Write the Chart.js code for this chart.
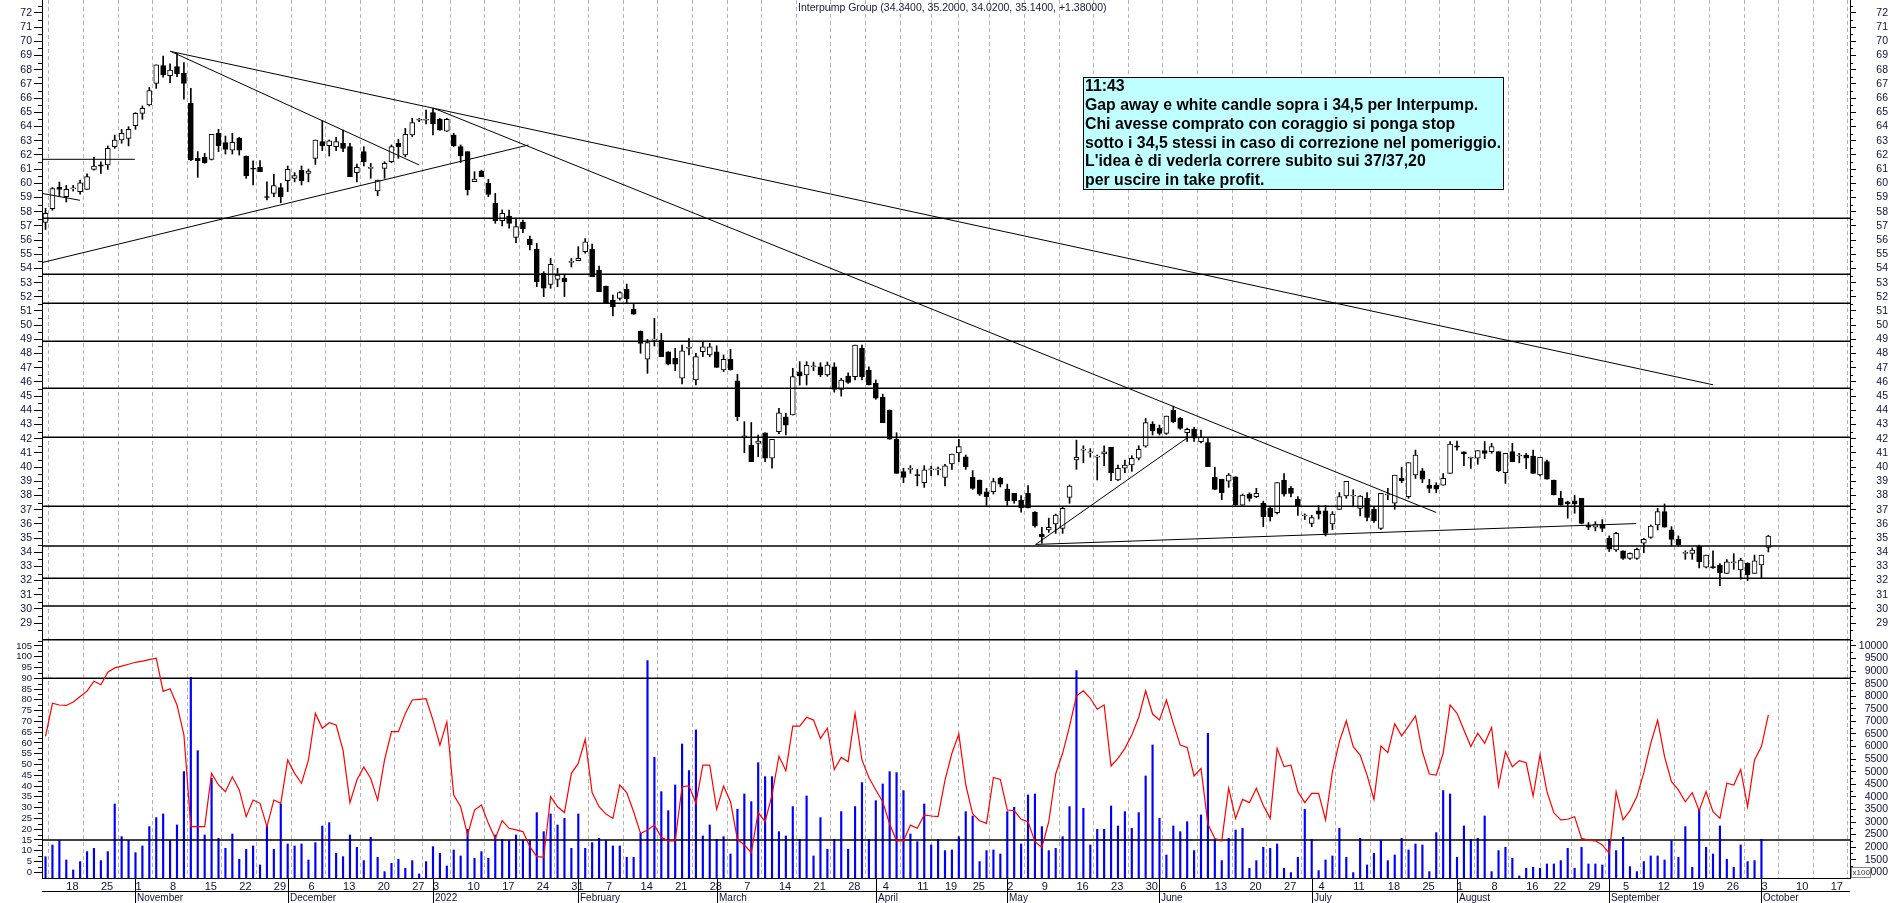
<!DOCTYPE html>
<html>
<head>
<meta charset="utf-8">
<script src="https://cdn.jsdelivr.net/npm/chart.js@4.4.1/dist/chart.umd.min.js"></script>
<style>
  html, body { margin: 0; padding: 0; background: #fff; }
  #wrap { position: relative; width: 1890px; height: 903px; overflow: hidden; background: #fff; }
  #price { position: absolute; left: 0; top: 0; }
  #ind { position: absolute; left: 0; top: 639px; }
</style>
</head>
<body>
<div id="wrap">
  <canvas id="price" width="1890" height="639"></canvas>
  <canvas id="ind" width="1890" height="264"></canvas>
</div>
<script>
// Daily candles, one per trading day (index 0 = 13 Oct 2021 ... 249 = 4 Oct 2022)
const open = [57.25,58.21,59.72,59.06,59.6,59.41,59.57,60.98,61.3,61.29,
62.58,63.05,63.17,64.06,64.93,65.52,67.04,68.29,67.58,68.22,
67.75,65.63,61.76,61.83,61.69,63.52,62.86,62.34,63.17,61.92,
61.05,61.12,59.06,59.29,59.69,60.18,60.35,60.93,60.7,61.76,
62.93,62.65,62.58,62.82,62.58,60.75,62.23,61.05,59.46,61.05,
61.52,62.82,61.99,63.4,64.44,64.44,64.98,64.51,63.68,63.4,
62.58,62.23,60.12,60.86,59.99,58.59,57.37,57.69,56.19,57.25,
56.05,55.35,53.66,52.88,53.23,53.3,54.43,54.55,55.18,55.35,
53.89,52.76,51.77,51.89,52.53,51.12,49.59,47.6,48.95,48.95,
48.13,47.67,46.26,48.37,46.14,48.13,47.9,48.13,46.84,47.6,
46.07,42.14,41.55,41.67,42.42,40.62,42.49,43.55,43.67,46.72,
46.49,47.07,47.07,46.49,47.07,45.48,46.42,46.37,48.37,46.84,
45.9,44.92,44.02,41.96,39.68,39.84,39.45,38.9,39.8,39.8,
39.28,40.22,41.0,40.73,39.28,39.09,38.26,38.26,39.21,38.43,
38.15,37.68,38.15,36.81,35.28,35.57,35.99,35.68,37.87,40.5,
41.2,41.0,40.7,40.92,41.4,39.09,39.92,40.15,40.62,41.48,
43.03,42.73,42.38,44.02,43.44,42.42,42.66,41.79,41.72,39.28,
39.14,39.0,39.32,37.32,38.1,37.92,37.45,37.09,36.79,39.09,
38.5,37.73,36.55,36.03,36.92,36.92,35.99,37.02,37.96,37.96,
37.09,37.8,37.03,35.68,38.03,37.45,39.21,37.92,39.44,39.74,
38.73,38.73,38.73,39.56,41.5,41.08,40.62,40.62,41.16,41.09,
41.09,39.6,41.09,40.78,40.85,40.78,39.44,40.38,39.09,37.8,
37.56,37.63,37.8,35.92,35.76,35.99,34.98,34.16,34.1,33.57,
33.57,34.63,35.05,35.92,36.86,35.57,34.91,33.92,33.92,34.44,
32.95,32.98,33.1,32.51,33.26,32.75,33.22,32.51,33.1,34.34];

const high = [58.23,59.7,60.09,59.85,59.85,60.22,60.67,61.83,61.52,62.63,
63.4,63.8,63.99,64.98,65.45,66.76,68.34,68.97,68.41,69.16,
68.5,66.69,62.23,62.11,63.45,63.8,63.33,63.52,63.24,61.92,
61.59,61.6,60.1,60.63,59.99,61.22,60.75,61.22,61.0,63.05,
64.41,63.05,63.24,63.75,62.82,61.36,62.58,61.4,60.23,61.52,
62.7,63.1,63.87,64.58,64.58,65.16,65.28,64.58,64.58,63.52,
62.7,62.23,60.82,60.93,60.28,59.29,58.12,58.12,57.46,57.41,
56.28,55.77,53.77,54.71,54.01,53.54,54.7,55.53,56.1,55.72,
54.17,52.76,52.13,52.36,52.9,51.49,49.59,49.0,50.49,49.43,
48.13,48.37,48.6,49.07,48.02,48.83,48.72,48.55,47.9,48.3,
46.54,43.2,43.14,42.26,42.42,41.96,44.14,43.78,46.96,47.43,
47.43,47.4,47.35,47.4,47.35,46.26,46.65,48.6,48.6,47.07,
46.14,45.14,44.02,42.42,39.92,40.1,39.84,40.1,40.06,40.0,
40.2,40.92,41.96,40.85,39.75,39.09,38.5,39.2,39.28,38.8,
38.15,38.0,38.7,36.86,35.76,36.4,36.69,37.2,38.74,41.9,
41.5,41.3,40.85,41.5,41.4,40.15,40.5,40.8,41.5,43.43,
43.2,42.96,43.6,44.3,43.5,42.75,42.8,42.6,42.0,39.98,
39.14,39.55,39.32,38.1,38.19,38.5,37.6,37.2,38.9,39.55,
38.62,37.92,36.7,36.6,37.3,37.3,36.86,38.2,39.0,38.4,
38.0,38.2,37.2,38.15,38.5,39.43,39.98,40.31,41.2,39.9,
39.14,38.9,39.55,41.8,41.83,41.08,40.7,41.16,41.8,41.67,
41.09,40.97,41.67,40.97,40.97,41.2,40.69,40.5,39.09,38.3,
37.6,38.0,37.8,36.09,36.15,36.3,35.15,35.4,34.1,33.96,
34.3,34.98,35.92,37.09,37.4,35.8,35.15,34.1,34.3,34.5,
33.8,34.1,33.2,33.48,33.9,33.57,33.26,33.8,33.8,35.2];

const low = [56.75,58.1,59.06,58.68,59.45,59.24,59.57,60.93,60.7,60.98,
62.46,62.82,62.63,63.8,64.51,65.45,66.69,67.47,67.09,67.51,
65.92,61.59,60.42,61.41,61.64,62.23,62.06,62.06,61.99,60.35,
59.88,60.82,58.82,59.06,58.63,59.41,60.1,59.88,60.1,61.33,
62.3,61.92,62.3,62.23,60.47,60.1,61.22,60.35,59.13,60.35,
61.45,61.76,61.87,63.28,64.34,64.18,63.4,63.75,63.64,62.58,
61.47,59.17,60.12,60.47,59.06,57.18,56.99,56.83,55.82,56.52,
55.3,52.71,52.01,52.6,52.71,52.01,54.1,54.55,55.07,53.42,
52.36,51.54,50.65,51.77,51.54,50.77,48.02,46.61,48.53,47.78,
47.2,46.79,45.86,47.9,45.79,47.78,47.78,47.03,46.73,46.84,
43.27,41.01,40.38,40.73,40.38,39.92,42.36,42.26,43.67,45.78,
45.78,46.8,46.37,46.4,45.28,45.0,45.9,46.14,46.14,45.79,
44.78,43.13,41.96,39.56,38.9,39.56,38.67,38.57,39.4,39.45,
38.67,39.84,40.38,39.84,38.43,38.0,37.3,38.1,38.6,37.3,
37.45,36.82,37.13,35.76,34.63,35.4,35.33,35.33,37.45,39.84,
40.3,40.7,39.09,40.1,39.05,39.05,39.6,39.7,40.5,41.4,
42.26,42.26,42.3,43.13,42.66,41.8,41.8,41.7,40.03,38.4,
37.7,38.57,37.32,37.3,37.6,37.85,35.8,36.2,36.7,37.95,
37.9,36.6,36.3,35.8,36.34,35.15,35.6,37.02,37.8,37.2,
36.55,36.2,36.1,35.6,37.7,37.03,38.9,37.8,39.2,38.9,
38.2,38.2,38.73,39.56,41.2,40.1,39.9,40.2,40.6,40.97,
39.68,38.85,40.38,40.3,39.9,39.56,39.37,39.14,38.03,37.32,
36.4,36.75,35.99,35.6,35.5,35.45,34.05,34.05,33.5,33.5,
33.5,33.96,34.98,35.57,35.76,34.45,34.45,33.5,33.5,32.9,
32.9,32.86,31.65,32.51,32.8,32.1,32.0,32.51,32.2,34.02];

const close = [57.88,59.62,59.57,59.57,59.68,60.04,60.47,61.22,61.2,62.46,
63.05,63.52,63.8,64.93,65.28,66.53,68.34,67.63,67.98,67.7,
67.04,61.64,61.59,61.45,63.45,62.65,62.39,62.88,62.34,60.54,
61.0,60.82,59.0,59.83,59.06,60.98,60.54,60.16,60.86,63.05,
62.65,63.0,62.93,62.46,60.47,61.12,61.52,61.05,60.23,61.4,
62.58,62.58,63.45,64.27,64.46,64.51,64.18,63.75,64.51,62.65,
61.92,59.53,60.3,60.47,59.22,57.37,57.88,57.18,56.94,56.8,
55.65,53.06,52.6,54.29,53.53,53.06,54.45,54.71,55.88,53.42,
52.36,51.54,51.3,52.29,51.85,50.77,48.72,48.77,48.98,47.78,
47.26,47.26,48.2,48.4,47.78,48.48,48.48,47.03,47.6,46.84,
43.55,42.16,40.38,41.83,40.62,41.96,43.83,42.96,46.37,46.42,
47.17,47.09,46.49,47.19,45.48,46.14,45.97,48.6,46.37,45.79,
44.85,43.13,41.96,39.56,39.28,39.86,39.4,39.8,39.82,39.82,
40.08,40.92,41.44,40.03,38.5,38.1,37.92,38.97,38.8,37.63,
37.63,37.13,37.13,35.85,35.09,35.76,36.62,37.09,38.67,40.69,
41.22,41.02,40.78,41.08,39.6,39.92,40.15,40.62,41.25,43.13,
42.56,42.38,43.6,43.2,42.73,42.66,42.03,42.1,40.03,38.43,
38.19,39.43,37.32,38.03,37.8,38.15,36.5,36.5,38.9,38.1,
38.15,37.25,36.57,36.45,36.69,35.33,36.69,37.92,39.0,37.98,
37.96,36.45,36.22,38.15,38.05,39.43,39.04,40.31,40.85,39.14,
38.5,38.45,39.2,41.63,41.4,40.92,40.64,41.16,40.97,41.44,
39.74,40.97,40.38,40.8,40.62,39.56,40.69,39.14,38.03,37.32,
37.4,37.4,36.03,35.76,35.99,35.68,34.21,35.33,33.57,33.92,
34.21,34.91,35.85,36.86,35.76,34.91,34.51,33.94,34.16,33.33,
33.8,32.9,32.56,33.33,33.28,33.45,32.4,33.4,33.8,35.14];

// oscillator (left scale of the lower panel)
const osc = [63,78.4,77.6,77.4,79,81.5,84,88.6,87,92.8,
94.8,95.6,96.5,97.4,97.9,98.6,99.3,83.9,85.1,77.6,
63.7,21.2,21.2,21.2,45.9,40.5,37.4,44.3,38.2,25.8,
33.5,32,21.2,33.5,32,52.1,45.9,41.3,52.1,73.7,
66.8,69.4,68.3,56.7,32.3,42.8,48.9,43.5,33.5,52.1,
65.2,65.2,73.7,79.9,80.2,80.5,70.6,59,69.8,35.8,
30.4,17.4,28.9,31.2,22.7,15.7,24,20.4,19.7,18.9,
11.9,7.3,7,35.1,30.4,27.7,45.9,50.5,61.7,37,
30.4,27,25,40.5,37,28.1,18,19.6,21.9,16.2,
14.6,14.6,39.7,40.1,32,49.7,49.7,29.2,40,32.7,
15.3,12.7,9.1,27.7,23.5,35.9,53.9,47.1,67.8,67.8,
71.9,70.6,62.1,66.8,47.7,53.3,51.3,73.7,52.1,44,
38.2,32.7,22.4,14.6,14.6,21.9,20.4,26.6,26.1,25.8,
42.8,55.2,64.1,40.5,27.1,23.9,22.7,44,43.1,28.9,
28.6,24.6,23.5,14.2,11.5,23.5,45.6,55.2,67.8,81.8,
84.2,80.7,75.6,77.6,49.3,52.8,57.5,63.7,71.9,84.2,
73.4,70.6,79.9,69.1,59,57.9,44.7,48.2,22.4,15.7,
14.6,39,25,33.8,32.3,39,31,25,57.5,49,
49.7,37.4,32.3,36.6,36.6,24.3,46.7,60.6,70.2,58.3,
54.4,45.1,33.8,58.6,55.5,68.8,63.3,67.8,72.5,55.9,
45.6,45.1,55.2,77.6,73.7,66,58.3,64.5,59.8,67.2,
40,55.9,49,51.8,50.8,35.4,54.4,37.4,27.6,24.3,
24.6,25.8,15.7,14.9,14.6,12.7,8.8,37.4,24.3,28.6,
35.1,46.2,59.8,70.6,53.6,42,38.2,32.7,36.9,28.6,
37.4,28.1,25,41.3,40.5,47.7,30.4,52.1,58.3,73];

// volume (x100, right scale of the lower panel)
const vol = [1620,2086,2258,1490,1093,1424,1822,1954,1464,1822,
3717,2417,2258,1782,2047,2816,3174,3320,2258,2882,
5003,8755,5838,2484,4738,2351,1954,2523,1516,1915,
2047,1291,2842,1915,3717,2126,2047,2126,1490,2179,
2842,2974,1755,1622,2484,1994,1464,2391,1596,1026,
1357,1516,1159,1464,934,1424,2020,1755,1252,1888,
1649,2709,1556,1822,1556,2484,2311,2258,2484,2258,
2258,3372,2616,3320,2882,3147,1954,3320,1954,2179,
2351,2258,2047,2047,1596,1596,2550,9418,5573,4208,
3452,4473,6103,5043,6660,2444,2882,2311,2417,1728,
3505,4115,3810,5360,4804,4804,2616,2444,3611,2311,
4036,1649,3174,1915,2311,3412,1915,3611,4566,2311,
3849,4513,5003,4963,4248,2523,2219,3717,2086,2311,
1862,1888,2417,3412,3240,1424,1862,1888,1728,3412,
3585,2126,4075,4115,2816,1862,1954,2417,3611,9021,
3544,2086,2709,2709,3638,2842,3412,2749,3372,4831,
6064,3147,1689,2842,2616,3014,1862,3280,6528,2311,
1464,2351,2682,2749,1159,1464,1994,1954,2126,1159,
987,1596,3505,2311,1066,1490,1649,2749,1596,987,
2351,1291,1755,2258,1464,1689,2351,1888,2126,2086,
1026,2576,4248,4115,1596,2842,2311,2351,3240,1026,
1862,1994,1556,855,1159,1199,1159,1331,1331,1464,
1954,1159,1994,1331,1331,1291,2311,1862,2391,1225,
1026,1424,1649,1649,1490,2258,1596,2816,1199,3505,
1994,1728,2842,1516,1199,2086,1424,1464,2311,null];

// x axis: weekly ticks (trading-day index) and month markers
const weekIdx = [3,8,13,18,23,28,33,38,43,48,53,56,61,66,71,76,81,86,91,96,101,106,111,116,121,126,130,134,139,144,149,154,159,164,169,174,179,184,189,194,199,204,209,214,218,223,228,233,238,243,248,253,258];
const weekLabels = ['18','25','1','8','15','22','29','6','13','20','27','3','10','17','24','31','7','14','21','28','7','14','21','28','4','11','19','25','2','9','16','23','30','6','13','20','27','4','11','18','25','1','8','16','22','29','5','12','19','26','3','10','17'];
const monthIdx = [13,35,56,77,97,120,139,161,183,204,226,248];
const monthLabels = ['November','December','2022','February','March','April','May','June','July','August','September','October'];

// y tick labels
const priceTicks = [29,30,31,32,33,34,35,36,37,38,39,40,41,42,43,44,45,46,47,48,49,50,51,52,53,54,55,56,57,58,59,60,61,62,63,64,65,66,67,68,69,70,71,72];
const oscTicks = [0,5,10,15,20,25,30,35,40,45,50,55,60,65,70,75,80,85,90,95,100,105];
const volTicks = [1000,1500,2000,2500,3000,3500,4000,4500,5000,5500,6000,6500,7000,7500,8000,8500,9000,9500,10000];

// drawn levels and trend lines [x1, y1, x2, y2] in (day index, price)
const levels = [57.53,53.59,51.54,48.86,45.55,42.1,37.24,34.44,32.16,30.21];
const oscLevels = [90,15];
const trendLines = [
  [18.0,69.3,241.0,45.8],
  [18.2,69.27,54.0,61.29],
  [56.05,65.3,201.0,36.8],
  [-0.59,54.4,69.8,62.7],
  [-0.55,61.69,12.9,61.69],
  [-0.56,59.29,4.98,58.8],
  [143.1,34.55,165.1,42.09],
  [143.1,34.55,229.9,36.02]
];

const TITLE = 'Interpump Group (34.3400, 35.2000, 34.0200, 35.1400, +1.38000)';
const noteLines = ['11:43',
  'Gap away e white candle sopra i 34,5 per Interpump.',
  'Chi avesse comprato con coraggio si ponga stop',
  'sotto i 34,5 stessi in caso di correzione nel pomeriggio.',
  "L'idea è di vederla correre subito sui 37/37,20",
  'per uscire in take profit.'];

const FONT = '"Liberation Sans", Arial, sans-serif';
const LBL = '#10103a';
const X_MIN = -0.51, X_MAX = 260.8;
Chart.defaults.font.family = FONT;

function fitY(w) { return s => { s.width = w; s.paddingTop = 0; s.paddingBottom = 0; }; }
function fitX(h) { return s => { s.height = h; s.paddingLeft = 0; s.paddingRight = 0; }; }

function xScale(show) {
  return {
    type: 'linear', position: 'bottom', min: X_MIN, max: X_MAX, offset: false,
    afterBuildTicks: s => { s.ticks = weekIdx.map(v => ({ value: v })); },
    grid: { display: true, drawOnChartArea: true, drawTicks: false, color: '#b4b4b4', lineWidth: 1 },
    border: { display: show, color: '#000', width: 1, dash: [4, 3] },
    ticks: { display: show, autoSkip: false, maxRotation: 0, minRotation: 0, align: 'start', padding: 2,
      color: LBL, font: { size: 11 }, callback: (v, i) => weekLabels[i] },
    afterFit: fitX(show ? 25 : 0)
  };
}

function yScale(pos, min, max, ticks, w, tl, size) {
  return {
    type: 'linear', position: pos, min: min, max: max,
    afterBuildTicks: s => { s.ticks = ticks.map(v => ({ value: v })); },
    grid: { drawOnChartArea: false, drawTicks: true, tickLength: tl, color: '#000', lineWidth: 1 },
    border: { display: true, color: '#000', width: 1 },
    ticks: { autoSkip: false, padding: 2, color: LBL, font: { size: size },
      crossAlign: pos === 'right' ? 'far' : 'near', callback: v => String(v) },
    afterFit: fitY(w)
  };
}

function drawMinor(chart, id, from, to, step, len) {
  const s = chart.scales[id], ctx = chart.ctx, a = chart.chartArea;
  ctx.save();
  ctx.strokeStyle = '#000'; ctx.lineWidth = 1; ctx.beginPath();
  for (let v = from; v <= to + 1e-9; v += step) {
    const y = Math.round(s.getPixelForValue(v)) + 0.5;
    if (y < a.top || y > a.bottom) continue;
    const x0 = s.position === 'left' ? s.right - len : s.left;
    ctx.moveTo(x0, y); ctx.lineTo(x0 + len, y);
  }
  ctx.stroke();
  ctx.restore();
}

// ---------- price panel ----------
const days = open.map((_, i) => i);
const bodyData = days.map(i => ({ x: i, y: [open[i], close[i]] }));
const wickData = days.map(i => ({ x: i, y: [low[i], high[i]] }));
const bodyFill = days.map(i => close[i] >= open[i] ? '#ffffff' : '#000000');

const lineDs = (pts, w, axis) => ({
  type: 'line', data: pts, borderColor: '#000', borderWidth: w, pointRadius: 0,
  fill: false, tension: 0, yAxisID: axis, order: 0
});

const priceDatasets = [
  { type: 'bar', data: bodyData, backgroundColor: bodyFill, borderColor: '#000', borderWidth: 1,
    borderSkipped: false, barThickness: 5, grouped: false, minBarLength: 1, yAxisID: 'yL', order: 1 },
  { type: 'bar', data: wickData, backgroundColor: '#000', borderWidth: 0, barThickness: 1,
    grouped: false, yAxisID: 'yL', order: 2 }
];
levels.forEach(v => priceDatasets.push(lineDs([{ x: X_MIN, y: v }, { x: X_MAX, y: v }], 1.5, 'yL')));
trendLines.forEach(t => priceDatasets.push(lineDs([{ x: t[0], y: t[1] }, { x: t[2], y: t[3] }], 1, 'yL')));

const priceDecor = {
  id: 'priceDecor',
  afterDraw(chart) {
    const ctx = chart.ctx;
    drawMinor(chart, 'yL', 28.5, 72.5, 1, 4);
    drawMinor(chart, 'yR', 28.5, 72.5, 1, 3);
    ctx.save();
    ctx.font = '10.5px ' + FONT;
    ctx.fillStyle = '#202040';
    ctx.textAlign = 'left'; ctx.textBaseline = 'middle';
    ctx.fillText(TITLE, 798, 8.5);
    // note box
    const bx = 1083, by = 77, bw = 420, bh = 112;
    ctx.fillStyle = '#c0ffff';
    ctx.fillRect(bx, by, bw, bh);
    ctx.strokeStyle = '#000'; ctx.lineWidth = 1;
    ctx.strokeRect(bx + 0.5, by + 0.5, bw, bh);
    let fs = 16;
    ctx.font = 'bold ' + fs + 'px ' + FONT;
    const wMax = Math.max(...noteLines.map(l => ctx.measureText(l).width));
    fs = fs * 416 / wMax;
    ctx.font = 'bold ' + fs.toFixed(2) + 'px ' + FONT;
    ctx.fillStyle = '#000'; ctx.textBaseline = 'alphabetic';
    noteLines.forEach((l, i) => ctx.fillText(l, 1085, 91 + i * 18.85));
    ctx.restore();
  }
};

new Chart(document.getElementById('price'), {
  type: 'bar',
  data: { datasets: priceDatasets },
  options: {
    responsive: false, animation: false, devicePixelRatio: 1, events: [],
    layout: { padding: { left: 0, right: 2, top: 0, bottom: 0 } },
    plugins: { legend: { display: false }, tooltip: { enabled: false } },
    scales: {
      x: xScale(false),
      yL: yScale('left', 27.885, 72.916, priceTicks, 42, 8, 10.5),
      yR: yScale('right', 27.885, 72.916, priceTicks, 38, 6, 10.5)
    }
  },
  plugins: [priceDecor]
});

// ---------- indicator panel ----------
const indDatasets = [
  { type: 'line', data: osc.map((v, i) => ({ x: i, y: v })), borderColor: '#ff0000', borderWidth: 1.2,
    pointRadius: 0, tension: 0, fill: false, yAxisID: 'yO', order: 0 },
  { type: 'bar', data: vol.map((v, i) => ({ x: i, y: v })), backgroundColor: '#0000ff', borderWidth: 0,
    barThickness: 1.5, grouped: false, yAxisID: 'yV', order: 3 }
];
oscLevels.forEach(v => indDatasets.push(Object.assign(lineDs([{ x: X_MIN, y: v }, { x: X_MAX, y: v }], 1.5, 'yO'), { order: 1 })));

const indDecor = {
  id: 'indDecor',
  afterDraw(chart) {
    const ctx = chart.ctx, a = chart.chartArea, xs = chart.scales.x;
    drawMinor(chart, 'yO', 2.5, 107.5, 5, 4);
    drawMinor(chart, 'yV', 1250, 10250, 500, 3);
    ctx.save();
    ctx.strokeStyle = '#000'; ctx.lineWidth = 1.5;
    ctx.beginPath(); ctx.moveTo(a.left, 0.75); ctx.lineTo(a.right, 0.75); ctx.stroke();
    ctx.lineWidth = 1;
    ctx.beginPath(); ctx.moveTo(a.left, 252.5); ctx.lineTo(a.right, 252.5); ctx.stroke();
    ctx.font = '10px ' + FONT; ctx.fillStyle = LBL;
    ctx.textAlign = 'left'; ctx.textBaseline = 'middle';
    monthIdx.forEach((m, i) => {
      const px = Math.round(xs.getPixelForValue(m)) + 0.5;
      ctx.beginPath(); ctx.moveTo(px, a.bottom); ctx.lineTo(px, 264); ctx.stroke();
      ctx.fillText(monthLabels[i], px + 1.5, 259);
    });
    // x100 marker
    ctx.fillStyle = '#fff';
    ctx.fillRect(1851, 228, 19, 10);
    ctx.strokeStyle = '#888';
    ctx.strokeRect(1851.5, 228.5, 19, 10);
    ctx.fillStyle = '#333'; ctx.font = '8px ' + FONT;
    ctx.fillText('x100', 1852.5, 233.5);
    ctx.restore();
  }
};

new Chart(document.getElementById('ind'), {
  type: 'bar',
  data: { datasets: indDatasets },
  options: {
    responsive: false, animation: false, devicePixelRatio: 1, events: [],
    layout: { padding: { left: 0, right: 2, top: 0, bottom: 0 } },
    plugins: { legend: { display: false }, tooltip: { enabled: false } },
    scales: {
      x: xScale(true),
      yO: yScale('left', -2.64, 108.2, oscTicks, 42, 8, 9.5),
      yV: yScale('right', 773, 10278, volTicks, 38, 6, 10.5)
    }
  },
  plugins: [indDecor]
});
</script>
</body>
</html>
